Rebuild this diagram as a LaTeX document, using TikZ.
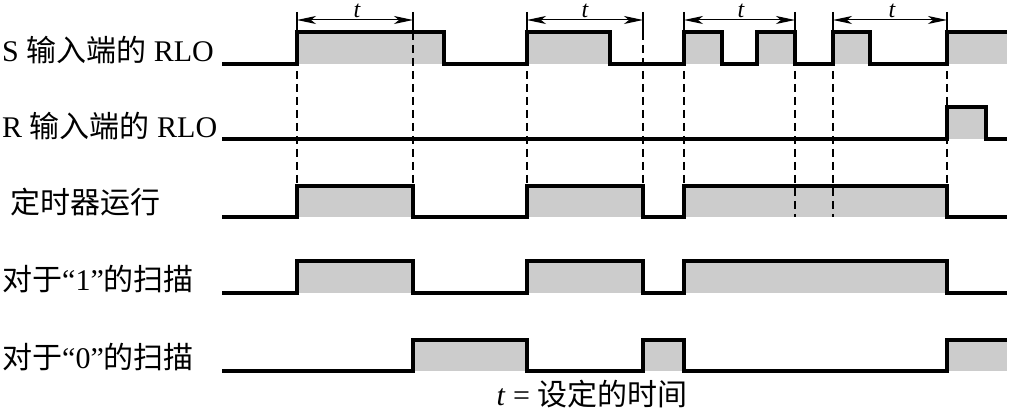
\documentclass[tikz,border=0pt]{standalone}
\usepackage{fontspec}
\setmainfont{Liberation Serif}
\newfontfamily\cjk{Noto Sans CJK SC}
\usetikzlibrary{arrows.meta}
\begin{document}
\begin{tikzpicture}[x=1pt,y=-1pt,
  wave/.style={line width=3.3pt, line join=miter},
  hi/.style={fill=black!20, draw=none},
  guide/.style={line width=1.3pt, dash pattern=on 8pt off 5pt},
  ext/.style={line width=1.3pt},
  dim/.style={line width=1pt, {Stealth[length=19pt,width=8pt,inset=5pt]}-{Stealth[length=19pt,width=8pt,inset=5pt]}},
  lab/.style={font=\fontsize{30}{30}\selectfont, inner sep=0pt, anchor=base west},
  tlab/.style={font=\fontsize{24}{24}\selectfont\itshape, inner sep=0pt, anchor=base},
]
\useasboundingbox (0,0) rectangle (1009,411);

% gray fills
\foreach \a/\b in {297/444,527/610,684/722,757/795,833/870,947/1007}
  \fill[hi] (\a,32) rectangle (\b,64);
\fill[hi] (947,107) rectangle (986,139);
\foreach \a/\b in {297/413,527/643,684/947}{
  \fill[hi] (\a,186) rectangle (\b,217);
  \fill[hi] (\a,261) rectangle (\b,293);}
\foreach \a/\b in {413/527,643/684,947/1007}
  \fill[hi] (\a,340) rectangle (\b,371);

% guide lines
\foreach \x/\e in {297/186,413/186,527/186,643/186,684/186,795/217,833/217,947/186}{
  \draw[ext] (\x,12) -- (\x,32);
  \draw[guide] (\x,32) -- (\x,\e);}

% waveforms
\draw[wave] (222,64) -- (297,64) -- (297,32) -- (444,32) -- (444,64) -- (527,64) -- (527,32) -- (610,32) -- (610,64) -- (684,64) -- (684,32) -- (722,32) -- (722,64) -- (757,64) -- (757,32) -- (795,32) -- (795,64) -- (833,64) -- (833,32) -- (870,32) -- (870,64) -- (947,64) -- (947,32) -- (1007,32);
\draw[wave] (222,139) -- (947,139) -- (947,107) -- (986,107) -- (986,139) -- (1007,139);
\draw[wave] (222,217) -- (297,217) -- (297,186) -- (413,186) -- (413,217) -- (527,217) -- (527,186) -- (643,186) -- (643,217) -- (684,217) -- (684,186) -- (947,186) -- (947,217) -- (1007,217);
\draw[wave] (222,293) -- (297,293) -- (297,261) -- (413,261) -- (413,293) -- (527,293) -- (527,261) -- (643,261) -- (643,293) -- (684,293) -- (684,261) -- (947,261) -- (947,293) -- (1007,293);
\draw[wave] (222,371) -- (413,371) -- (413,340) -- (527,340) -- (527,371) -- (643,371) -- (643,340) -- (684,340) -- (684,371) -- (947,371) -- (947,340) -- (1007,340);

% dimension arrows
\coordinate (d1a) at (297,20); \coordinate (d1b) at (413,20);
\coordinate (d2a) at (527,20); \coordinate (d2b) at (643,20);
\coordinate (d3a) at (684,20); \coordinate (d3b) at (795,20);
\coordinate (d4a) at (833,20); \coordinate (d4b) at (947,20);
\draw[dim] (d1a) -- (d1b);
\draw[dim] (d2a) -- (d2b);
\draw[dim] (d3a) -- (d3b);
\draw[dim] (d4a) -- (d4b);
\node[tlab] (t1) at (357,17.5) {t};
\node[tlab] (t2) at (585,17.5) {t};
\node[tlab] (t3) at (741,17.5) {t};
\node[tlab] (t4) at (892,17.5) {t};

% labels
\node[lab] (ls) at (2,62) {S {\cjk 输入端的} RLO};
\node[lab] (lr) at (2,138) {R {\cjk 输入端的} RLO};
\node[lab] (lt) at (10,214) {\cjk 定时器运行};
\node[lab] (l1) at (2,291) {{\cjk 对于}“1”{\cjk 的扫描}};
\node[lab] (l0) at (2,369) {{\cjk 对于}“0”{\cjk 的扫描}};
\node[lab, anchor=base] (lt2) at (592,406) {\textit{t} = {\cjk 设定的时间}};
\end{tikzpicture}
\end{document}
